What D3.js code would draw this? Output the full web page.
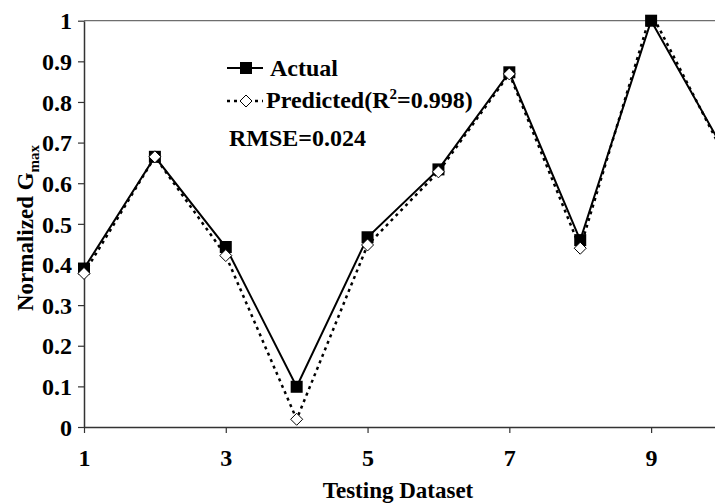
<!DOCTYPE html>
<html>
<head>
<meta charset="utf-8">
<script src="https://cdn.jsdelivr.net/npm/d3@7"></script>
<style>
  body { margin: 0; background: #fff; }
  text { font-family: "Liberation Serif", "Times New Roman", serif; font-weight: bold; fill: #000; }
</style>
</head>
<body>
<div id="chart"></div>
<script>
// testing dataset index
const samples = [1, 2, 3, 4, 5, 6, 7, 8, 9, 10];
// normalized Gmax values
const actual    = [0.39, 0.665, 0.443, 0.099, 0.467, 0.634, 0.873, 0.46, 1.0, 0.69];
const predicted = [0.378, 0.665, 0.422, 0.019, 0.448, 0.628, 0.869, 0.44, 1.02, 0.68];

const xTicks = [1, 3, 5, 7, 9];
const yTicks = [0, 0.1, 0.2, 0.3, 0.4, 0.5, 0.6, 0.7, 0.8, 0.9, 1];

const width = 715, height = 503;
const plotLeft = 84, plotTop = 20.7, plotBottom = 427, plotRight = 722;

const svg = d3.select("#chart").append("svg")
  .attr("width", width)
  .attr("height", height);

const x = d3.scaleLinear().domain([1, 10]).range([plotLeft, plotRight]);
const y = d3.scaleLinear().domain([0, 1]).range([plotBottom, plotTop]);

// lines are clipped to the plot area (markers only if out of range)
svg.append("clipPath").attr("id", "plotclip")
  .append("rect")
  .attr("x", 0).attr("y", plotTop)
  .attr("width", plotRight).attr("height", plotBottom - plotTop);

// top border
svg.append("line")
  .attr("x1", plotLeft).attr("x2", plotRight)
  .attr("y1", plotTop).attr("y2", plotTop)
  .attr("stroke", "#6e6e6e").attr("stroke-width", 1.2);

// axes
const xAxis = svg.append("g")
  .attr("transform", `translate(0,${plotBottom})`)
  .call(d3.axisBottom(x).tickValues(xTicks).tickSize(6).tickSizeOuter(0).tickPadding(16));

const yAxis = svg.append("g")
  .attr("transform", `translate(${plotLeft},0)`)
  .call(d3.axisLeft(y).tickValues(yTicks).tickSize(6).tickSizeOuter(0).tickPadding(6)
    .tickFormat(d => d3.format("~g")(d)));

[xAxis, yAxis].forEach(a => {
  a.select(".domain").attr("stroke", "#333").attr("stroke-width", 1.5);
  a.selectAll(".tick line").attr("stroke", "#333").attr("stroke-width", 1.2);
  a.selectAll(".tick text")
    .style("font-family", "'Liberation Serif', serif")
    .style("font-weight", "bold")
    .style("font-size", "24px")
    .attr("fill", "#000");
});
yAxis.selectAll(".tick text").attr("dy", "0.34em");

const inRange = d => d <= 1 && d >= 0;

// series
const line = d3.line().x((d, i) => x(samples[i])).y(d => y(d));

svg.append("path")
  .datum(actual)
  .attr("clip-path", "url(#plotclip)")
  .attr("d", line)
  .attr("fill", "none")
  .attr("stroke", "#000")
  .attr("stroke-width", 2);

svg.selectAll(".sq")
  .data(actual.map((v, i) => ({ s: samples[i], v })).filter(d => inRange(d.v)))
  .enter().append("rect")
  .attr("class", "sq")
  .attr("x", d => x(d.s) - 6)
  .attr("y", d => y(d.v) - 6)
  .attr("width", 12).attr("height", 12)
  .attr("fill", "#000");

svg.append("path")
  .datum(predicted)
  .attr("clip-path", "url(#plotclip)")
  .attr("d", line)
  .attr("fill", "none")
  .attr("stroke", "#000")
  .attr("stroke-width", 2.5)
  .attr("stroke-dasharray", "3,4");

const diamond = "M0,-6L6,0L0,6L-6,0Z";
svg.selectAll(".dm")
  .data(predicted.map((v, i) => ({ s: samples[i], v })).filter(d => inRange(d.v)))
  .enter().append("path")
  .attr("class", "dm")
  .attr("d", diamond)
  .attr("transform", d => `translate(${x(d.s)},${y(d.v)})`)
  .attr("fill", "#fff")
  .attr("stroke", "#000")
  .attr("stroke-width", 1);

// legend
const lg = svg.append("g");
lg.append("line").attr("x1", 227).attr("x2", 263).attr("y1", 68).attr("y2", 68)
  .attr("stroke", "#000").attr("stroke-width", 2);
lg.append("rect").attr("x", 240).attr("y", 62).attr("width", 12).attr("height", 12).attr("fill", "#000");
lg.append("text").attr("x", 270).attr("y", 76).style("font-size", "24px").text("Actual");

lg.append("line").attr("x1", 227).attr("x2", 263).attr("y1", 101).attr("y2", 101)
  .attr("stroke", "#000").attr("stroke-width", 2.5).attr("stroke-dasharray", "3,4");
lg.append("path").attr("d", diamond).attr("transform", "translate(246,101)")
  .attr("fill", "#fff").attr("stroke", "#000").attr("stroke-width", 1);
const pt = lg.append("text").attr("x", 266).attr("y", 108).style("font-size", "24px");
pt.append("tspan").text("Predicted(R");
pt.append("tspan").attr("dy", -9).style("font-size", "15px").text("2");
pt.append("tspan").attr("dy", 9).text("=0.998)");

lg.append("text").attr("x", 229).attr("y", 146).style("font-size", "24px").text("RMSE=0.024");

// axis titles
svg.append("text")
  .attr("x", 398).attr("y", 498)
  .attr("text-anchor", "middle")
  .style("font-size", "23px")
  .text("Testing Dataset");

const yl = svg.append("text")
  .attr("transform", "translate(33,228) rotate(-90)")
  .attr("text-anchor", "middle")
  .style("font-size", "23px");
yl.append("tspan").text("Normalized G");
yl.append("tspan").attr("dy", 6).style("font-size", "15px").text("max");
</script>
</body>
</html>
